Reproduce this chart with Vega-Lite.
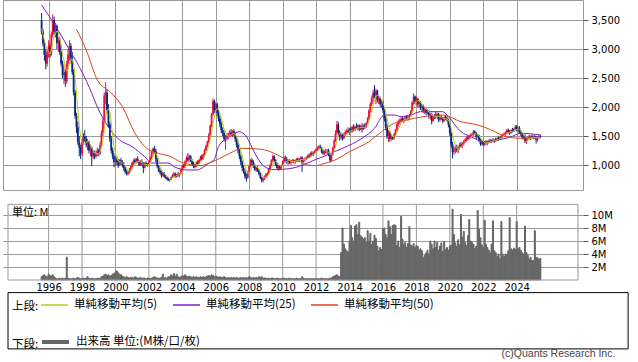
{
"$schema": "https://vega.github.io/schema/vega-lite/v6.json",
"width": 580, "height": 190,
"autosize": {"type": "none"},
"padding": {"left": 3, "top": 0, "right": 55, "bottom": 172},
"background": "white",
"config": {
  "view": {"stroke": "#999999", "strokeWidth": 1},
  "axis": {"labelFont": "DejaVu Sans", "labelFontSize": 10, "labelColor": "#000000", "gridColor": "#9a9a9a", "gridWidth": 1, "gridOpacity": 1, "tickColor": "#555555", "domain": false, "labelOverlap": false},
  "legend": {"labelFont": "Noto Sans CJK JP", "labelFontSize": 11.5, "labelColor": "#000000", "titleFont": "Noto Sans CJK JP", "titleFontSize": 11.5, "titleFontWeight": "normal", "titleColor": "#000000", "titleOrient": "left", "titleAnchor": "middle", "titleBaseline": "top", "direction": "horizontal", "padding": 0, "columnPadding": 12, "labelOffset": 5, "titlePadding": 1, "symbolType": "stroke"}
},
"datasets": {
"p": [
{"t":"1995-08","o":3500,"h":3620,"l":3250,"c":3300,"v":0.5,"a":3350},
{"t":"1995-09","o":3300,"h":3350,"l":3050,"c":3100,"v":0.7,"a":3250},
{"t":"1995-10","o":3100,"h":3150,"l":2800,"c":2900,"v":0.8,"a":3150},
{"t":"1995-11","o":2900,"h":3000,"l":2650,"c":2750,"v":0.6,"a":3050},
{"t":"1995-12","o":2750,"h":3000,"l":2700,"c":2950,"v":0.5,"a":3000},
{"t":"1996-01","o":2950,"h":3150,"l":2850,"c":3050,"v":0.9,"a":2950},
{"t":"1996-02","o":3050,"h":3100,"l":2850,"c":2900,"v":0.7,"a":2910},
{"t":"1996-03","o":2900,"h":3300,"l":2880,"c":3250,"v":0.6,"a":2980},
{"t":"1996-04","o":3250,"h":3600,"l":3200,"c":3500,"v":0.8,"a":3130},
{"t":"1996-05","o":3500,"h":3560,"l":3250,"c":3300,"v":0.5,"a":3200},
{"t":"1996-06","o":3300,"h":3450,"l":3200,"c":3400,"v":0.3,"a":3270},
{"t":"1996-07","o":3400,"h":3420,"l":3000,"c":3100,"v":0.2,"a":3310},
{"t":"1996-08","o":3100,"h":3200,"l":2950,"c":3150,"v":0.2,"a":3290},
{"t":"1996-09","o":3150,"h":3200,"l":2900,"c":2950,"v":0.3,"a":3180},
{"t":"1996-10","o":2950,"h":3050,"l":2700,"c":2750,"v":0.2,"a":3070},
{"t":"1996-11","o":2750,"h":2800,"l":2500,"c":2550,"v":0.3,"a":2900},
{"t":"1996-12","o":2550,"h":2700,"l":2400,"c":2600,"v":0.2,"a":2800},
{"t":"1997-01","o":2600,"h":2650,"l":2350,"c":2450,"v":0.3,"a":2660},
{"t":"1997-02","o":2450,"h":2800,"l":2400,"c":2750,"v":3.5,"a":2620},
{"t":"1997-03","o":2750,"h":3000,"l":2700,"c":2900,"v":0.3,"a":2650},
{"t":"1997-04","o":2900,"h":3150,"l":2800,"c":3050,"v":0.2,"a":2750},
{"t":"1997-05","o":3050,"h":3100,"l":2750,"c":2850,"v":0.2,"a":2800},
{"t":"1997-06","o":2850,"h":2950,"l":2550,"c":2600,"v":0.2,"a":2830},
{"t":"1997-07","o":2600,"h":2650,"l":2200,"c":2250,"v":0.3,"a":2730},
{"t":"1997-08","o":2250,"h":2300,"l":1800,"c":1850,"v":0.2,"a":2520},
{"t":"1997-09","o":1850,"h":1900,"l":1550,"c":1650,"v":0.3,"a":2240},
{"t":"1997-10","o":1650,"h":1750,"l":1350,"c":1400,"v":0.4,"a":1950},
{"t":"1997-11","o":1400,"h":1500,"l":1150,"c":1300,"v":0.3,"a":1690},
{"t":"1997-12","o":1300,"h":1350,"l":1100,"c":1200,"v":0.2,"a":1480},
{"t":"1998-01","o":1200,"h":1450,"l":1150,"c":1400,"v":0.2,"a":1390},
{"t":"1998-02","o":1400,"h":1550,"l":1350,"c":1500,"v":0.3,"a":1360},
{"t":"1998-03","o":1500,"h":1600,"l":1400,"c":1450,"v":0.2,"a":1370},
{"t":"1998-04","o":1450,"h":1500,"l":1300,"c":1350,"v":0.3,"a":1380},
{"t":"1998-05","o":1350,"h":1450,"l":1250,"c":1400,"v":0.5,"a":1420},
{"t":"1998-06","o":1400,"h":1420,"l":1200,"c":1250,"v":0.3,"a":1390},
{"t":"1998-07","o":1250,"h":1350,"l":1150,"c":1300,"v":0.2,"a":1350},
{"t":"1998-08","o":1300,"h":1320,"l":980,"c":1150,"v":0.3,"a":1290},
{"t":"1998-09","o":1150,"h":1250,"l":1100,"c":1200,"v":0.2,"a":1260},
{"t":"1998-10","o":1200,"h":1250,"l":1100,"c":1150,"v":0.2,"a":1210},
{"t":"1998-11","o":1150,"h":1250,"l":1120,"c":1200,"v":0.2,"a":1200},
{"t":"1998-12","o":1200,"h":1300,"l":1150,"c":1250,"v":0.3,"a":1190},
{"t":"1999-01","o":1250,"h":1280,"l":1150,"c":1200,"v":0.2,"a":1200},
{"t":"1999-02","o":1200,"h":1400,"l":1180,"c":1350,"v":0.3,"a":1230},
{"t":"1999-03","o":1350,"h":1600,"l":1320,"c":1550,"v":0.5,"a":1310},
{"t":"1999-04","o":1550,"h":1800,"l":1500,"c":1750,"v":0.6,"a":1420},
{"t":"1999-05","o":1750,"h":2250,"l":1700,"c":2200,"v":0.8,"a":1610},
{"t":"1999-06","o":2200,"h":2430,"l":2050,"c":2250,"v":0.9,"a":1820},
{"t":"1999-07","o":2250,"h":2300,"l":1900,"c":1950,"v":0.7,"a":1940},
{"t":"1999-08","o":1950,"h":2050,"l":1650,"c":1700,"v":0.8,"a":1970},
{"t":"1999-09","o":1700,"h":1750,"l":1400,"c":1450,"v":0.6,"a":1910},
{"t":"1999-10","o":1450,"h":1500,"l":1200,"c":1250,"v":0.7,"a":1720},
{"t":"1999-11","o":1250,"h":1300,"l":1100,"c":1150,"v":0.9,"a":1500},
{"t":"1999-12","o":1150,"h":1200,"l":960,"c":1050,"v":1.0,"a":1320},
{"t":"2000-01","o":1050,"h":1150,"l":980,"c":1100,"v":1.2,"a":1200},
{"t":"2000-02","o":1100,"h":1150,"l":1000,"c":1050,"v":1.4,"a":1120},
{"t":"2000-03","o":1050,"h":1100,"l":950,"c":1000,"v":1.1,"a":1070},
{"t":"2000-04","o":1000,"h":1100,"l":980,"c":1080,"v":0.9,"a":1056},
{"t":"2000-05","o":1080,"h":1120,"l":1000,"c":1040,"v":0.8,"a":1054},
{"t":"2000-06","o":1040,"h":1080,"l":960,"c":1000,"v":0.6,"a":1034},
{"t":"2000-07","o":1000,"h":1050,"l":900,"c":950,"v":0.5,"a":1014},
{"t":"2000-08","o":950,"h":980,"l":850,"c":880,"v":0.4,"a":990},
{"t":"2000-09","o":880,"h":920,"l":820,"c":850,"v":0.5,"a":944},
{"t":"2000-10","o":850,"h":900,"l":820,"c":880,"v":0.4,"a":912},
{"t":"2000-11","o":880,"h":950,"l":850,"c":920,"v":0.3,"a":896},
{"t":"2000-12","o":920,"h":1000,"l":880,"c":980,"v":0.4,"a":902},
{"t":"2001-01","o":980,"h":1060,"l":950,"c":1040,"v":0.4,"a":934},
{"t":"2001-02","o":1040,"h":1100,"l":1000,"c":1080,"v":0.3,"a":980},
{"t":"2001-03","o":1080,"h":1120,"l":1020,"c":1050,"v":0.5,"a":1014},
{"t":"2001-04","o":1050,"h":1120,"l":1030,"c":1100,"v":0.4,"a":1050},
{"t":"2001-05","o":1100,"h":1150,"l":1040,"c":1060,"v":0.3,"a":1066},
{"t":"2001-06","o":1060,"h":1080,"l":980,"c":1000,"v":0.3,"a":1058},
{"t":"2001-07","o":1000,"h":1080,"l":980,"c":1050,"v":0.4,"a":1052},
{"t":"2001-08","o":1050,"h":1100,"l":990,"c":1020,"v":0.3,"a":1046},
{"t":"2001-09","o":1020,"h":1050,"l":860,"c":950,"v":0.3,"a":1016},
{"t":"2001-10","o":950,"h":1050,"l":940,"c":1030,"v":0.3,"a":1010},
{"t":"2001-11","o":1030,"h":1060,"l":980,"c":1000,"v":0.2,"a":1010},
{"t":"2001-12","o":1000,"h":1040,"l":970,"c":1010,"v":0.3,"a":1002},
{"t":"2002-01","o":1010,"h":1080,"l":1000,"c":1060,"v":0.3,"a":1010},
{"t":"2002-02","o":1060,"h":1150,"l":1040,"c":1130,"v":0.2,"a":1046},
{"t":"2002-03","o":1130,"h":1250,"l":1100,"c":1220,"v":0.3,"a":1084},
{"t":"2002-04","o":1220,"h":1300,"l":1180,"c":1280,"v":0.4,"a":1140},
{"t":"2002-05","o":1280,"h":1330,"l":1200,"c":1240,"v":0.5,"a":1186},
{"t":"2002-06","o":1240,"h":1280,"l":1050,"c":1100,"v":0.4,"a":1194},
{"t":"2002-07","o":1100,"h":1120,"l":950,"c":980,"v":0.3,"a":1164},
{"t":"2002-08","o":980,"h":1000,"l":880,"c":900,"v":0.3,"a":1100},
{"t":"2002-09","o":900,"h":940,"l":840,"c":870,"v":0.3,"a":1018},
{"t":"2002-10","o":870,"h":900,"l":780,"c":820,"v":0.4,"a":934},
{"t":"2002-11","o":820,"h":880,"l":800,"c":860,"v":0.9,"a":886},
{"t":"2002-12","o":860,"h":880,"l":780,"c":800,"v":0.3,"a":850},
{"t":"2003-01","o":800,"h":830,"l":760,"c":780,"v":0.4,"a":826},
{"t":"2003-02","o":780,"h":800,"l":730,"c":760,"v":0.3,"a":804},
{"t":"2003-03","o":760,"h":790,"l":720,"c":740,"v":0.5,"a":788},
{"t":"2003-04","o":740,"h":760,"l":710,"c":750,"v":0.5,"a":766},
{"t":"2003-05","o":750,"h":800,"l":740,"c":790,"v":0.8,"a":764},
{"t":"2003-06","o":790,"h":850,"l":780,"c":830,"v":0.6,"a":774},
{"t":"2003-07","o":830,"h":880,"l":800,"c":850,"v":1.0,"a":792},
{"t":"2003-08","o":850,"h":870,"l":780,"c":800,"v":0.6,"a":804},
{"t":"2003-09","o":800,"h":850,"l":780,"c":840,"v":0.9,"a":822},
{"t":"2003-10","o":840,"h":880,"l":800,"c":820,"v":0.5,"a":828},
{"t":"2003-11","o":820,"h":860,"l":790,"c":850,"v":0.4,"a":832},
{"t":"2003-12","o":850,"h":940,"l":840,"c":920,"v":0.5,"a":846},
{"t":"2004-01","o":920,"h":1000,"l":900,"c":980,"v":0.7,"a":882},
{"t":"2004-02","o":980,"h":1020,"l":940,"c":960,"v":0.6,"a":906},
{"t":"2004-03","o":960,"h":1080,"l":950,"c":1060,"v":0.8,"a":954},
{"t":"2004-04","o":1060,"h":1150,"l":1040,"c":1120,"v":0.6,"a":1008},
{"t":"2004-05","o":1120,"h":1200,"l":1060,"c":1080,"v":0.5,"a":1040},
{"t":"2004-06","o":1080,"h":1180,"l":1050,"c":1150,"v":0.6,"a":1074},
{"t":"2004-07","o":1150,"h":1170,"l":1050,"c":1070,"v":0.5,"a":1096},
{"t":"2004-08","o":1070,"h":1100,"l":980,"c":1000,"v":0.4,"a":1084},
{"t":"2004-09","o":1000,"h":1050,"l":950,"c":980,"v":0.5,"a":1056},
{"t":"2004-10","o":980,"h":1020,"l":940,"c":970,"v":0.4,"a":1034},
{"t":"2004-11","o":970,"h":1060,"l":960,"c":1040,"v":0.5,"a":1012},
{"t":"2004-12","o":1040,"h":1080,"l":1000,"c":1020,"v":0.4,"a":1002},
{"t":"2005-01","o":1020,"h":1100,"l":1010,"c":1090,"v":0.4,"a":1020},
{"t":"2005-02","o":1090,"h":1160,"l":1070,"c":1140,"v":0.5,"a":1052},
{"t":"2005-03","o":1140,"h":1180,"l":1080,"c":1100,"v":0.4,"a":1078},
{"t":"2005-04","o":1100,"h":1200,"l":1090,"c":1180,"v":0.5,"a":1106},
{"t":"2005-05","o":1180,"h":1280,"l":1160,"c":1260,"v":0.4,"a":1154},
{"t":"2005-06","o":1260,"h":1350,"l":1240,"c":1330,"v":0.5,"a":1202},
{"t":"2005-07","o":1330,"h":1420,"l":1300,"c":1400,"v":0.6,"a":1254},
{"t":"2005-08","o":1400,"h":1550,"l":1380,"c":1520,"v":0.7,"a":1338},
{"t":"2005-09","o":1520,"h":1700,"l":1500,"c":1680,"v":0.6,"a":1438},
{"t":"2005-10","o":1680,"h":1900,"l":1650,"c":1870,"v":0.8,"a":1560},
{"t":"2005-11","o":1870,"h":2150,"l":1850,"c":2100,"v":0.7,"a":1714},
{"t":"2005-12","o":2100,"h":2130,"l":1900,"c":1950,"v":0.5,"a":1824},
{"t":"2006-01","o":1950,"h":2080,"l":1900,"c":2050,"v":0.6,"a":1930},
{"t":"2006-02","o":2050,"h":2070,"l":1850,"c":1900,"v":0.5,"a":1974},
{"t":"2006-03","o":1900,"h":1950,"l":1750,"c":1800,"v":0.4,"a":1960},
{"t":"2006-04","o":1800,"h":1850,"l":1650,"c":1700,"v":0.5,"a":1880},
{"t":"2006-05","o":1700,"h":1750,"l":1550,"c":1600,"v":0.4,"a":1810},
{"t":"2006-06","o":1600,"h":1650,"l":1500,"c":1550,"v":0.4,"a":1710},
{"t":"2006-07","o":1550,"h":1600,"l":1400,"c":1450,"v":0.5,"a":1620},
{"t":"2006-08","o":1450,"h":1520,"l":1260,"c":1480,"v":0.4,"a":1556},
{"t":"2006-09","o":1480,"h":1550,"l":1420,"c":1500,"v":0.3,"a":1516},
{"t":"2006-10","o":1500,"h":1560,"l":1440,"c":1520,"v":0.4,"a":1500},
{"t":"2006-11","o":1520,"h":1600,"l":1480,"c":1560,"v":0.3,"a":1502},
{"t":"2006-12","o":1560,"h":1620,"l":1500,"c":1530,"v":0.4,"a":1518},
{"t":"2007-01","o":1530,"h":1600,"l":1480,"c":1580,"v":0.3,"a":1538},
{"t":"2007-02","o":1580,"h":1620,"l":1500,"c":1520,"v":0.4,"a":1542},
{"t":"2007-03","o":1520,"h":1560,"l":1400,"c":1450,"v":0.3,"a":1528},
{"t":"2007-04","o":1450,"h":1480,"l":1300,"c":1350,"v":0.4,"a":1486},
{"t":"2007-05","o":1350,"h":1400,"l":1200,"c":1250,"v":0.3,"a":1430},
{"t":"2007-06","o":1250,"h":1280,"l":1100,"c":1150,"v":0.3,"a":1344},
{"t":"2007-07","o":1150,"h":1180,"l":1000,"c":1050,"v":0.4,"a":1250},
{"t":"2007-08","o":1050,"h":1080,"l":900,"c":950,"v":0.3,"a":1150},
{"t":"2007-09","o":950,"h":1000,"l":850,"c":880,"v":0.4,"a":1056},
{"t":"2007-10","o":880,"h":920,"l":760,"c":800,"v":0.3,"a":966},
{"t":"2007-11","o":800,"h":850,"l":712,"c":780,"v":0.4,"a":892},
{"t":"2007-12","o":780,"h":900,"l":760,"c":880,"v":0.3,"a":858},
{"t":"2008-01","o":880,"h":1000,"l":860,"c":980,"v":0.5,"a":864},
{"t":"2008-02","o":980,"h":1100,"l":960,"c":1080,"v":0.4,"a":904},
{"t":"2008-03","o":1080,"h":1120,"l":1000,"c":1050,"v":0.3,"a":954},
{"t":"2008-04","o":1050,"h":1080,"l":950,"c":980,"v":0.4,"a":994},
{"t":"2008-05","o":980,"h":1020,"l":900,"c":920,"v":0.3,"a":1002},
{"t":"2008-06","o":920,"h":980,"l":880,"c":950,"v":0.4,"a":996},
{"t":"2008-07","o":950,"h":980,"l":880,"c":900,"v":0.3,"a":960},
{"t":"2008-08","o":900,"h":930,"l":820,"c":850,"v":0.5,"a":920},
{"t":"2008-09","o":850,"h":870,"l":760,"c":780,"v":0.4,"a":880},
{"t":"2008-10","o":780,"h":800,"l":700,"c":730,"v":0.5,"a":842},
{"t":"2008-11","o":730,"h":780,"l":700,"c":760,"v":0.3,"a":804},
{"t":"2008-12","o":760,"h":820,"l":740,"c":800,"v":0.3,"a":784},
{"t":"2009-01","o":800,"h":860,"l":780,"c":840,"v":0.3,"a":782},
{"t":"2009-02","o":840,"h":880,"l":800,"c":860,"v":0.2,"a":798},
{"t":"2009-03","o":860,"h":950,"l":840,"c":930,"v":0.3,"a":838},
{"t":"2009-04","o":930,"h":1020,"l":900,"c":1000,"v":0.2,"a":886},
{"t":"2009-05","o":1000,"h":1100,"l":980,"c":1080,"v":0.3,"a":942},
{"t":"2009-06","o":1080,"h":1180,"l":1050,"c":1150,"v":0.3,"a":1004},
{"t":"2009-07","o":1150,"h":1170,"l":1050,"c":1080,"v":0.2,"a":1048},
{"t":"2009-08","o":1080,"h":1100,"l":980,"c":1000,"v":0.2,"a":1062},
{"t":"2009-09","o":1000,"h":1030,"l":920,"c":950,"v":0.3,"a":1052},
{"t":"2009-10","o":950,"h":1000,"l":900,"c":980,"v":0.2,"a":1032},
{"t":"2009-11","o":980,"h":1000,"l":920,"c":940,"v":0.2,"a":990},
{"t":"2009-12","o":940,"h":1000,"l":930,"c":990,"v":0.2,"a":972},
{"t":"2010-01","o":990,"h":1080,"l":980,"c":1060,"v":0.2,"a":984},
{"t":"2010-02","o":1060,"h":1150,"l":1040,"c":1120,"v":0.3,"a":1018},
{"t":"2010-03","o":1120,"h":1160,"l":1060,"c":1100,"v":0.2,"a":1042},
{"t":"2010-04","o":1100,"h":1140,"l":1020,"c":1050,"v":0.2,"a":1064},
{"t":"2010-05","o":1050,"h":1090,"l":1000,"c":1070,"v":0.2,"a":1080},
{"t":"2010-06","o":1070,"h":1100,"l":1020,"c":1040,"v":0.3,"a":1076},
{"t":"2010-07","o":1040,"h":1080,"l":1000,"c":1060,"v":0.2,"a":1064},
{"t":"2010-08","o":1060,"h":1100,"l":1040,"c":1080,"v":0.2,"a":1060},
{"t":"2010-09","o":1080,"h":1100,"l":1030,"c":1050,"v":0.2,"a":1060},
{"t":"2010-10","o":1050,"h":1090,"l":1020,"c":1070,"v":0.2,"a":1060},
{"t":"2010-11","o":1070,"h":1120,"l":1050,"c":1100,"v":0.3,"a":1072},
{"t":"2010-12","o":1100,"h":1130,"l":1060,"c":1080,"v":0.2,"a":1076},
{"t":"2011-01","o":1080,"h":1120,"l":1050,"c":1100,"v":0.2,"a":1080},
{"t":"2011-02","o":1100,"h":1150,"l":1080,"c":1130,"v":0.2,"a":1096},
{"t":"2011-03","o":1130,"h":1150,"l":880,"c":1060,"v":0.5,"a":1094},
{"t":"2011-04","o":1060,"h":1110,"l":1040,"c":1090,"v":0.3,"a":1092},
{"t":"2011-05","o":1090,"h":1130,"l":1060,"c":1110,"v":0.2,"a":1098},
{"t":"2011-06","o":1110,"h":1150,"l":1080,"c":1130,"v":0.2,"a":1104},
{"t":"2011-07","o":1130,"h":1180,"l":1100,"c":1160,"v":0.2,"a":1110},
{"t":"2011-08","o":1160,"h":1200,"l":1120,"c":1140,"v":0.2,"a":1126},
{"t":"2011-09","o":1140,"h":1220,"l":1130,"c":1200,"v":0.2,"a":1148},
{"t":"2011-10","o":1200,"h":1240,"l":1160,"c":1180,"v":0.2,"a":1162},
{"t":"2011-11","o":1180,"h":1230,"l":1150,"c":1210,"v":0.2,"a":1178},
{"t":"2011-12","o":1210,"h":1260,"l":1190,"c":1240,"v":0.2,"a":1194},
{"t":"2012-01","o":1240,"h":1290,"l":1220,"c":1270,"v":0.2,"a":1220},
{"t":"2012-02","o":1270,"h":1320,"l":1250,"c":1300,"v":0.2,"a":1240},
{"t":"2012-03","o":1300,"h":1340,"l":1260,"c":1320,"v":0.2,"a":1268},
{"t":"2012-04","o":1320,"h":1350,"l":1280,"c":1300,"v":0.2,"a":1286},
{"t":"2012-05","o":1300,"h":1310,"l":1200,"c":1230,"v":0.3,"a":1284},
{"t":"2012-06","o":1230,"h":1260,"l":1180,"c":1200,"v":0.2,"a":1270},
{"t":"2012-07","o":1200,"h":1260,"l":1170,"c":1240,"v":0.2,"a":1258},
{"t":"2012-08","o":1240,"h":1280,"l":1200,"c":1220,"v":0.2,"a":1238},
{"t":"2012-09","o":1220,"h":1270,"l":1190,"c":1250,"v":0.2,"a":1228},
{"t":"2012-10","o":1250,"h":1280,"l":1150,"c":1170,"v":0.2,"a":1216},
{"t":"2012-11","o":1170,"h":1200,"l":1040,"c":1080,"v":0.3,"a":1192},
{"t":"2012-12","o":1080,"h":1200,"l":1060,"c":1180,"v":0.3,"a":1180},
{"t":"2013-01","o":1180,"h":1320,"l":1160,"c":1300,"v":0.5,"a":1196},
{"t":"2013-02","o":1300,"h":1450,"l":1280,"c":1420,"v":0.6,"a":1230},
{"t":"2013-03","o":1420,"h":1600,"l":1400,"c":1550,"v":0.7,"a":1306},
{"t":"2013-04","o":1550,"h":1760,"l":1520,"c":1700,"v":0.8,"a":1430},
{"t":"2013-05","o":1700,"h":1740,"l":1500,"c":1560,"v":0.6,"a":1506},
{"t":"2013-06","o":1560,"h":1600,"l":1420,"c":1480,"v":0.5,"a":1542},
{"t":"2013-07","o":1480,"h":1550,"l":1440,"c":1520,"v":4.2,"a":1562},
{"t":"2013-08","o":1520,"h":1540,"l":1420,"c":1460,"v":8.0,"a":1544},
{"t":"2013-09","o":1460,"h":1560,"l":1440,"c":1540,"v":5.5,"a":1512},
{"t":"2013-10","o":1540,"h":1600,"l":1500,"c":1570,"v":4.8,"a":1514},
{"t":"2013-11","o":1570,"h":1620,"l":1530,"c":1590,"v":4.5,"a":1536},
{"t":"2013-12","o":1590,"h":1650,"l":1550,"c":1560,"v":4.3,"a":1544},
{"t":"2014-01","o":1560,"h":1640,"l":1520,"c":1620,"v":6.0,"a":1576},
{"t":"2014-02","o":1620,"h":1660,"l":1560,"c":1580,"v":8.4,"a":1584},
{"t":"2014-03","o":1580,"h":1680,"l":1560,"c":1650,"v":6.5,"a":1600},
{"t":"2014-04","o":1650,"h":1700,"l":1580,"c":1600,"v":6.0,"a":1602},
{"t":"2014-05","o":1600,"h":1680,"l":1590,"c":1660,"v":8.3,"a":1622},
{"t":"2014-06","o":1660,"h":1720,"l":1620,"c":1640,"v":8.5,"a":1626},
{"t":"2014-07","o":1640,"h":1700,"l":1600,"c":1680,"v":7.0,"a":1646},
{"t":"2014-08","o":1680,"h":1700,"l":1580,"c":1610,"v":8.9,"a":1638},
{"t":"2014-09","o":1610,"h":1690,"l":1600,"c":1670,"v":6.8,"a":1652},
{"t":"2014-10","o":1670,"h":1720,"l":1560,"c":1620,"v":6.6,"a":1644},
{"t":"2014-11","o":1620,"h":1700,"l":1600,"c":1680,"v":6.3,"a":1652},
{"t":"2014-12","o":1680,"h":1720,"l":1620,"c":1660,"v":6.5,"a":1648},
{"t":"2015-01","o":1660,"h":1740,"l":1640,"c":1720,"v":5.8,"a":1670},
{"t":"2015-02","o":1720,"h":1830,"l":1700,"c":1800,"v":7.6,"a":1696},
{"t":"2015-03","o":1800,"h":1960,"l":1780,"c":1940,"v":6.0,"a":1760},
{"t":"2015-04","o":1940,"h":2080,"l":1900,"c":2050,"v":7.2,"a":1834},
{"t":"2015-05","o":2050,"h":2200,"l":2020,"c":2150,"v":5.5,"a":1932},
{"t":"2015-06","o":2150,"h":2300,"l":2080,"c":2250,"v":6.0,"a":2038},
{"t":"2015-07","o":2250,"h":2380,"l":2150,"c":2200,"v":6.9,"a":2118},
{"t":"2015-08","o":2200,"h":2320,"l":2050,"c":2280,"v":6.4,"a":2186},
{"t":"2015-09","o":2280,"h":2300,"l":2080,"c":2120,"v":5.2,"a":2200},
{"t":"2015-10","o":2120,"h":2200,"l":2050,"c":2150,"v":4.5,"a":2200},
{"t":"2015-11","o":2150,"h":2180,"l":2000,"c":2050,"v":5.0,"a":2160},
{"t":"2015-12","o":2050,"h":2120,"l":1980,"c":2080,"v":4.7,"a":2136},
{"t":"2016-01","o":2080,"h":2100,"l":1900,"c":1950,"v":7.9,"a":2070},
{"t":"2016-02","o":1950,"h":1980,"l":1750,"c":1800,"v":8.0,"a":2006},
{"t":"2016-03","o":1800,"h":1850,"l":1600,"c":1650,"v":7.0,"a":1906},
{"t":"2016-04","o":1650,"h":1700,"l":1450,"c":1500,"v":6.5,"a":1796},
{"t":"2016-05","o":1500,"h":1600,"l":1400,"c":1560,"v":9.1,"a":1692},
{"t":"2016-06","o":1560,"h":1580,"l":1400,"c":1450,"v":8.2,"a":1592},
{"t":"2016-07","o":1450,"h":1520,"l":1420,"c":1480,"v":7.0,"a":1528},
{"t":"2016-08","o":1480,"h":1500,"l":1430,"c":1460,"v":8.4,"a":1490},
{"t":"2016-09","o":1460,"h":1550,"l":1440,"c":1530,"v":8.5,"a":1496},
{"t":"2016-10","o":1530,"h":1620,"l":1500,"c":1600,"v":8.4,"a":1504},
{"t":"2016-11","o":1600,"h":1720,"l":1580,"c":1700,"v":5.3,"a":1554},
{"t":"2016-12","o":1700,"h":1780,"l":1660,"c":1740,"v":6.0,"a":1606},
{"t":"2017-01","o":1740,"h":1800,"l":1700,"c":1760,"v":5.0,"a":1666},
{"t":"2017-02","o":1760,"h":1820,"l":1720,"c":1800,"v":9.8,"a":1720},
{"t":"2017-03","o":1800,"h":1830,"l":1740,"c":1770,"v":6.3,"a":1754},
{"t":"2017-04","o":1770,"h":1820,"l":1720,"c":1790,"v":5.5,"a":1772},
{"t":"2017-05","o":1790,"h":1850,"l":1760,"c":1820,"v":5.8,"a":1788},
{"t":"2017-06","o":1820,"h":1860,"l":1780,"c":1800,"v":5.0,"a":1796},
{"t":"2017-07","o":1800,"h":1850,"l":1760,"c":1830,"v":5.6,"a":1802},
{"t":"2017-08","o":1830,"h":1880,"l":1790,"c":1850,"v":8.2,"a":1818},
{"t":"2017-09","o":1850,"h":1950,"l":1830,"c":1930,"v":5.4,"a":1846},
{"t":"2017-10","o":1930,"h":2100,"l":1900,"c":2080,"v":5.2,"a":1898},
{"t":"2017-11","o":2080,"h":2236,"l":2040,"c":2180,"v":5.6,"a":1974},
{"t":"2017-12","o":2180,"h":2200,"l":2050,"c":2100,"v":5.0,"a":2028},
{"t":"2018-01","o":2100,"h":2180,"l":2040,"c":2140,"v":5.3,"a":2086},
{"t":"2018-02","o":2140,"h":2160,"l":2000,"c":2050,"v":5.2,"a":2110},
{"t":"2018-03","o":2050,"h":2120,"l":1980,"c":2080,"v":4.6,"a":2110},
{"t":"2018-04","o":2080,"h":2100,"l":1950,"c":1990,"v":4.8,"a":2072},
{"t":"2018-05","o":1990,"h":2050,"l":1920,"c":2020,"v":4.5,"a":2056},
{"t":"2018-06","o":2020,"h":2040,"l":1900,"c":1940,"v":3.5,"a":2016},
{"t":"2018-07","o":1940,"h":2000,"l":1880,"c":1960,"v":3.8,"a":1998},
{"t":"2018-08","o":1960,"h":1980,"l":1860,"c":1900,"v":4.2,"a":1962},
{"t":"2018-09","o":1900,"h":1960,"l":1870,"c":1920,"v":4.6,"a":1948},
{"t":"2018-10","o":1920,"h":1940,"l":1800,"c":1850,"v":4.0,"a":1914},
{"t":"2018-11","o":1850,"h":1900,"l":1780,"c":1880,"v":6.0,"a":1902},
{"t":"2018-12","o":1880,"h":1900,"l":1700,"c":1760,"v":5.5,"a":1862},
{"t":"2019-01","o":1760,"h":1850,"l":1740,"c":1830,"v":4.8,"a":1848},
{"t":"2019-02","o":1830,"h":1880,"l":1790,"c":1860,"v":6.0,"a":1836},
{"t":"2019-03","o":1860,"h":1920,"l":1800,"c":1840,"v":5.0,"a":1834},
{"t":"2019-04","o":1840,"h":1900,"l":1800,"c":1880,"v":5.8,"a":1834},
{"t":"2019-05","o":1880,"h":1900,"l":1740,"c":1780,"v":4.6,"a":1838},
{"t":"2019-06","o":1780,"h":1840,"l":1750,"c":1820,"v":5.2,"a":1836},
{"t":"2019-07","o":1820,"h":1860,"l":1780,"c":1800,"v":5.7,"a":1824},
{"t":"2019-08","o":1800,"h":1830,"l":1720,"c":1760,"v":4.4,"a":1808},
{"t":"2019-09","o":1760,"h":1840,"l":1740,"c":1820,"v":5.9,"a":1796},
{"t":"2019-10","o":1820,"h":1860,"l":1780,"c":1800,"v":4.7,"a":1800},
{"t":"2019-11","o":1800,"h":1840,"l":1750,"c":1780,"v":5.0,"a":1792},
{"t":"2019-12","o":1780,"h":1800,"l":1650,"c":1700,"v":4.6,"a":1772},
{"t":"2020-01","o":1700,"h":1720,"l":1500,"c":1550,"v":5.2,"a":1730},
{"t":"2020-02","o":1550,"h":1580,"l":1300,"c":1350,"v":5.4,"a":1636},
{"t":"2020-03","o":1350,"h":1400,"l":1116,"c":1220,"v":10.9,"a":1520},
{"t":"2020-04","o":1220,"h":1320,"l":1180,"c":1280,"v":7.0,"a":1420},
{"t":"2020-05","o":1280,"h":1340,"l":1200,"c":1300,"v":5.7,"a":1340},
{"t":"2020-06","o":1300,"h":1350,"l":1220,"c":1260,"v":5.2,"a":1282},
{"t":"2020-07","o":1260,"h":1320,"l":1200,"c":1300,"v":6.2,"a":1272},
{"t":"2020-08","o":1300,"h":1380,"l":1270,"c":1350,"v":5.4,"a":1298},
{"t":"2020-09","o":1350,"h":1400,"l":1300,"c":1330,"v":10.1,"a":1308},
{"t":"2020-10","o":1330,"h":1390,"l":1290,"c":1370,"v":6.6,"a":1322},
{"t":"2020-11","o":1370,"h":1430,"l":1340,"c":1410,"v":7.5,"a":1352},
{"t":"2020-12","o":1410,"h":1460,"l":1380,"c":1440,"v":5.8,"a":1380},
{"t":"2021-01","o":1440,"h":1490,"l":1400,"c":1470,"v":5.3,"a":1404},
{"t":"2021-02","o":1470,"h":1500,"l":1420,"c":1450,"v":6.8,"a":1428},
{"t":"2021-03","o":1450,"h":1520,"l":1440,"c":1500,"v":9.3,"a":1454},
{"t":"2021-04","o":1500,"h":1540,"l":1460,"c":1520,"v":6.0,"a":1476},
{"t":"2021-05","o":1520,"h":1560,"l":1480,"c":1540,"v":5.8,"a":1496},
{"t":"2021-06","o":1540,"h":1603,"l":1500,"c":1580,"v":5.5,"a":1518},
{"t":"2021-07","o":1580,"h":1600,"l":1520,"c":1550,"v":4.9,"a":1538},
{"t":"2021-08","o":1550,"h":1570,"l":1450,"c":1480,"v":5.2,"a":1534},
{"t":"2021-09","o":1480,"h":1530,"l":1460,"c":1510,"v":10.7,"a":1532},
{"t":"2021-10","o":1510,"h":1520,"l":1400,"c":1430,"v":7.8,"a":1510},
{"t":"2021-11","o":1430,"h":1460,"l":1330,"c":1360,"v":6.5,"a":1466},
{"t":"2021-12","o":1360,"h":1420,"l":1340,"c":1400,"v":5.4,"a":1436},
{"t":"2022-01","o":1400,"h":1420,"l":1320,"c":1350,"v":5.0,"a":1410},
{"t":"2022-02","o":1350,"h":1410,"l":1330,"c":1390,"v":9.2,"a":1386},
{"t":"2022-03","o":1390,"h":1430,"l":1350,"c":1380,"v":5.5,"a":1376},
{"t":"2022-04","o":1380,"h":1420,"l":1340,"c":1400,"v":5.0,"a":1384},
{"t":"2022-05","o":1400,"h":1440,"l":1370,"c":1420,"v":4.6,"a":1388},
{"t":"2022-06","o":1420,"h":1450,"l":1380,"c":1400,"v":4.2,"a":1398},
{"t":"2022-07","o":1400,"h":1440,"l":1380,"c":1430,"v":5.5,"a":1406},
{"t":"2022-08","o":1430,"h":1460,"l":1390,"c":1410,"v":9.1,"a":1412},
{"t":"2022-09","o":1410,"h":1450,"l":1380,"c":1440,"v":4.5,"a":1420},
{"t":"2022-10","o":1440,"h":1470,"l":1400,"c":1430,"v":4.2,"a":1422},
{"t":"2022-11","o":1430,"h":1480,"l":1410,"c":1460,"v":3.6,"a":1434},
{"t":"2022-12","o":1460,"h":1490,"l":1420,"c":1450,"v":4.0,"a":1438},
{"t":"2023-01","o":1450,"h":1500,"l":1430,"c":1480,"v":3.3,"a":1452},
{"t":"2023-02","o":1480,"h":1520,"l":1450,"c":1500,"v":9.0,"a":1464},
{"t":"2023-03","o":1500,"h":1540,"l":1460,"c":1520,"v":4.0,"a":1482},
{"t":"2023-04","o":1520,"h":1560,"l":1490,"c":1540,"v":3.6,"a":1498},
{"t":"2023-05","o":1540,"h":1580,"l":1500,"c":1560,"v":4.0,"a":1520},
{"t":"2023-06","o":1560,"h":1620,"l":1530,"c":1600,"v":3.9,"a":1544},
{"t":"2023-07","o":1600,"h":1630,"l":1540,"c":1570,"v":4.5,"a":1558},
{"t":"2023-08","o":1570,"h":1600,"l":1520,"c":1550,"v":9.6,"a":1564},
{"t":"2023-09","o":1550,"h":1620,"l":1540,"c":1600,"v":4.8,"a":1576},
{"t":"2023-10","o":1600,"h":1640,"l":1560,"c":1580,"v":4.6,"a":1580},
{"t":"2023-11","o":1580,"h":1640,"l":1570,"c":1620,"v":4.9,"a":1584},
{"t":"2023-12","o":1620,"h":1690,"l":1600,"c":1660,"v":4.7,"a":1602},
{"t":"2024-01","o":1660,"h":1690,"l":1580,"c":1600,"v":9.0,"a":1612},
{"t":"2024-02","o":1600,"h":1660,"l":1570,"c":1640,"v":4.8,"a":1620},
{"t":"2024-03","o":1640,"h":1670,"l":1540,"c":1560,"v":5.0,"a":1616},
{"t":"2024-04","o":1560,"h":1600,"l":1500,"c":1530,"v":4.6,"a":1598},
{"t":"2024-05","o":1530,"h":1560,"l":1440,"c":1470,"v":4.2,"a":1560},
{"t":"2024-06","o":1470,"h":1520,"l":1440,"c":1500,"v":4.0,"a":1540},
{"t":"2024-07","o":1500,"h":1530,"l":1380,"c":1420,"v":8.3,"a":1496},
{"t":"2024-08","o":1420,"h":1480,"l":1360,"c":1460,"v":4.2,"a":1476},
{"t":"2024-09","o":1460,"h":1500,"l":1420,"c":1480,"v":3.8,"a":1466},
{"t":"2024-10","o":1480,"h":1520,"l":1440,"c":1450,"v":3.2,"a":1462},
{"t":"2024-11","o":1450,"h":1510,"l":1430,"c":1490,"v":3.5,"a":1460},
{"t":"2024-12","o":1490,"h":1530,"l":1460,"c":1470,"v":3.0,"a":1470},
{"t":"2025-01","o":1470,"h":1510,"l":1440,"c":1490,"v":3.0,"a":1476},
{"t":"2025-02","o":1490,"h":1520,"l":1450,"c":1460,"v":7.6,"a":1472},
{"t":"2025-03","o":1460,"h":1500,"l":1370,"c":1430,"v":3.5,"a":1468},
{"t":"2025-04","o":1430,"h":1500,"l":1400,"c":1480,"v":3.4,"a":1466},
{"t":"2025-05","o":1480,"h":1520,"l":1450,"c":1500,"v":3.2,"a":1472},
{"t":"2025-06","o":1500,"h":1520,"l":1460,"c":1490,"v":3.3,"a":1472}
],
"m": [
{"t":"1995-08","k":"25","y":3760},{"t":"1996-12","k":"25","y":3155},{"t":"1997-04","k":"25","y":2983},{"t":"1997-11","k":"25","y":2695},{"t":"1998-06","k":"25","y":2350},{"t":"1999-01","k":"25","y":1948},{"t":"1999-11","k":"25","y":1552},{"t":"2000-04","k":"25","y":1431},{"t":"2001-01","k":"25","y":1316},{"t":"2001-10","k":"25","y":1143},{"t":"2002-03","k":"25","y":1034},{"t":"2003-03","k":"25","y":1034},{"t":"2003-07","k":"25","y":971},{"t":"2004-05","k":"25","y":914},{"t":"2004-11","k":"25","y":914},{"t":"2005-08","k":"25","y":1030},{"t":"2005-12","k":"25","y":1100},{"t":"2006-03","k":"25","y":1316},{"t":"2007-01","k":"25","y":1517},{"t":"2007-06","k":"25","y":1574},{"t":"2007-11","k":"25","y":1488},{"t":"2008-05","k":"25","y":1207},{"t":"2008-12","k":"25","y":971},{"t":"2009-07","k":"25","y":920},{"t":"2010-07","k":"25","y":940},{"t":"2011-12","k":"25","y":1086},{"t":"2012-12","k":"25","y":1207},{"t":"2013-08","k":"25","y":1288},{"t":"2014-10","k":"25","y":1460},{"t":"2015-07","k":"25","y":1633},{"t":"2016-02","k":"25","y":1862},{"t":"2016-09","k":"25","y":1862},{"t":"2017-02","k":"25","y":1833},{"t":"2017-09","k":"25","y":1862},{"t":"2018-04","k":"25","y":1919},{"t":"2019-08","k":"25","y":1919},{"t":"2019-12","k":"25","y":1833},{"t":"2020-09","k":"25","y":1574},{"t":"2021-04","k":"25","y":1488},{"t":"2022-02","k":"25","y":1400},{"t":"2022-11","k":"25","y":1431},{"t":"2023-08","k":"25","y":1477},{"t":"2024-04","k":"25","y":1546},{"t":"2025-06","k":"25","y":1520},
{"t":"1997-09","k":"50","y":3340},{"t":"1998-04","k":"50","y":2983},{"t":"1998-12","k":"50","y":2466},{"t":"1999-09","k":"50","y":2264},{"t":"2000-06","k":"50","y":2006},{"t":"2001-03","k":"50","y":1546},{"t":"2002-01","k":"50","y":1259},{"t":"2002-08","k":"50","y":1200},{"t":"2003-05","k":"50","y":1143},{"t":"2003-12","k":"50","y":1050},{"t":"2005-02","k":"50","y":990},{"t":"2005-11","k":"50","y":1060},{"t":"2006-11","k":"50","y":1200},{"t":"2007-08","k":"50","y":1288},{"t":"2008-10","k":"50","y":1270},{"t":"2009-07","k":"50","y":1201},{"t":"2010-05","k":"50","y":1086},{"t":"2011-01","k":"50","y":1060},{"t":"2011-07","k":"50","y":1000},{"t":"2012-01","k":"50","y":990},{"t":"2012-06","k":"50","y":1020},{"t":"2013-02","k":"50","y":1080},{"t":"2014-01","k":"50","y":1230},{"t":"2015-03","k":"50","y":1402},{"t":"2015-12","k":"50","y":1574},{"t":"2016-09","k":"50","y":1719},{"t":"2017-06","k":"50","y":1776},{"t":"2018-06","k":"50","y":1833},{"t":"2019-08","k":"50","y":1862},{"t":"2020-09","k":"50","y":1747},{"t":"2021-09","k":"50","y":1690},{"t":"2022-07","k":"50","y":1603},{"t":"2023-04","k":"50","y":1500},{"t":"2024-04","k":"50","y":1460},{"t":"2025-06","k":"50","y":1477}
],
"yr": [{"t":"1996-01-01"},{"t":"1998-01-01"},{"t":"2000-01-01"},{"t":"2002-01-01"},{"t":"2004-01-01"},{"t":"2006-01-01"},{"t":"2008-01-01"},{"t":"2010-01-01"},{"t":"2012-01-01"},{"t":"2014-01-01"},{"t":"2016-01-01"},{"t":"2018-01-01"},{"t":"2020-01-01"},{"t":"2022-01-01"},{"t":"2024-01-01"}],
"one": [{"u":"単位: M","cr":"(c)Quants Research Inc."}]
},
"resolve": {"scale": {"y": "independent"}, "axis": {"y": "independent"}},
"layer": [
{
  "data": {"name": "p"},
  "resolve": {"scale": {"y": "shared"}, "axis": {"y": "shared"}},
  "encoding": {
    "x": {"field": "t", "type": "temporal", "title": null,
          "scale": {"domain": [{"year": 1993, "month": 7, "date": 28}, {"year": 2027, "month": 9, "date": 2}]},
          "axis": {"orient": "bottom", "offset": 90, "title": null, "format": "%Y", "grid": true, "ticks": false, "domain": false, "labelPadding": 2, "tickCount": 40,
                   "values": [{"year":1996},{"year":1998},{"year":2000},{"year":2002},{"year":2004},{"year":2006},{"year":2008},{"year":2010},{"year":2012},{"year":2014},{"year":2016},{"year":2018},{"year":2020},{"year":2022},{"year":2024}]}}
  },
  "layer": [
    {"mark": {"type": "rule", "strokeWidth": 1},
     "encoding": {
       "y": {"field": "l", "type": "quantitative", "title": null, "scale": {"domain": [569, 3845]},
             "axis": {"orient": "right", "title": null, "values": [1000,1500,2000,2500,3000,3500], "tickCount": 20, "labelExpr": "format(datum.value, ',')", "grid": true, "domain": false, "tickSize": 5, "labelPadding": 3}},
       "y2": {"field": "h"},
       "color": {"condition": {"test": "datum.c >= datum.o", "value": "#e8143c"}, "value": "#0a2882"}
     }},
    {"mark": {"type": "bar", "size": 1.8},
     "encoding": {
       "y": {"field": "o", "type": "quantitative", "title": null, "scale": {"domain": [569, 3845]}},
       "y2": {"field": "c"},
       "color": {"condition": {"test": "datum.c >= datum.o", "value": "#e8143c"}, "value": "#0a2882"}
     }},
    {"data": {"name": "m"},
     "mark": {"type": "line", "strokeWidth": 1, "interpolate": "monotone"},
     "encoding": {
       "y": {"field": "y", "type": "quantitative", "title": null, "scale": {"domain": [569, 3845]}},
       "color": {"field": "k", "type": "nominal",
                 "scale": {"domain": ["5", "25", "50"], "range": ["#b8cc1c", "#7a1ec8", "#d8441c"]},
                 "legend": {"title": "上段:", "orient": "none", "legendX": 9, "legendY": 290.5, "symbolSize": 729, "symbolStrokeWidth": 1.5, "labelExpr": "'単純移動平均(' + datum.label + ')'"}}
     }},
    {"mark": {"type": "line", "strokeWidth": 1},
     "encoding": {
       "y": {"field": "a", "type": "quantitative", "title": null, "scale": {"domain": [569, 3845]}},
       "color": {"datum": "5", "type": "nominal"}
     }}
  ]
},
{
  "resolve": {"scale": {"y": "shared"}, "axis": {"y": "shared"}},
  "layer": [
    {"data": {"name": "yr"},
     "mark": {"type": "rule", "color": "#9a9a9a", "strokeWidth": 1},
     "encoding": {
       "x": {"field": "t", "type": "temporal", "title": null,
             "scale": {"domain": [{"year": 1993, "month": 7, "date": 28}, {"year": 2027, "month": 9, "date": 2}]}},
       "y": {"datum": 0, "type": "quantitative", "title": null, "scale": {"domain": [0, 11.64], "range": [280, 202]}},
       "y2": {"datum": 11.64}
     }},
    {"data": {"name": "p"},
     "mark": {"type": "bar", "size": 1.0, "fill": "#666666"},
     "encoding": {
       "x": {"field": "t", "type": "temporal", "title": null,
             "scale": {"domain": [{"year": 1993, "month": 7, "date": 28}, {"year": 2027, "month": 9, "date": 2}]}},
       "y": {"field": "v", "type": "quantitative", "title": null, "scale": {"domain": [0, 11.64], "range": [280, 202]},
             "axis": {"orient": "right", "title": null, "values": [2,4,6,8,10], "tickCount": 20, "labelExpr": "datum.value + 'M'", "grid": true, "domain": false, "tickSize": 5, "labelPadding": 3}},
       "stroke": {"datum": "出来高 単位:(M株/口/枚)", "type": "nominal", "scale": {"range": ["#666666"]},
                  "legend": {"title": "下段:", "orient": "none", "legendX": 9, "legendY": 326.5, "symbolType": "stroke", "symbolSize": 729, "symbolStrokeWidth": 4, "symbolStrokeColor": "#666666"}}
     }},
    {"data": {"name": "one"},
     "mark": {"type": "rect", "filled": false, "stroke": "#999999", "strokeWidth": 1},
     "encoding": {
       "x": {"datum": {"year": 1993, "month": 7, "date": 28}, "type": "temporal", "title": null},
       "x2": {"datum": {"year": 2027, "month": 9, "date": 2}},
       "y": {"datum": 0, "type": "quantitative", "title": null},
       "y2": {"datum": 11.64}
     }},
    {"data": {"name": "one"},
     "mark": {"type": "rect", "filled": false, "stroke": "#000000", "strokeWidth": 1},
     "encoding": {
       "x": {"datum": {"year": 1993, "month": 7, "date": 28}, "type": "temporal", "title": null},
       "x2": {"datum": {"year": 2030, "month": 9, "date": 1}},
       "y": {"datum": -1.94, "type": "quantitative", "title": null},
       "y2": {"datum": -10.6}
     }},
    {"data": {"name": "one"},
     "mark": {"type": "text", "align": "left", "baseline": "top", "dx": 4, "dy": 3, "font": "Noto Sans CJK JP", "fontSize": 11, "color": "#000000"},
     "encoding": {
       "x": {"datum": {"year": 1993, "month": 7, "date": 28}, "type": "temporal", "title": null},
       "y": {"datum": 11.64, "type": "quantitative", "title": null},
       "text": {"field": "u"}
     }},
    {"data": {"name": "one"},
     "mark": {"type": "text", "align": "right", "baseline": "middle", "font": "Liberation Sans", "fontSize": 10.5, "color": "#444444"},
     "encoding": {
       "x": {"datum": {"year": 2029, "month": 11, "date": 26}, "type": "temporal", "title": null},
       "y": {"datum": -11.34, "type": "quantitative", "title": null},
       "text": {"field": "cr"}
     }}
  ]
}
]
}
